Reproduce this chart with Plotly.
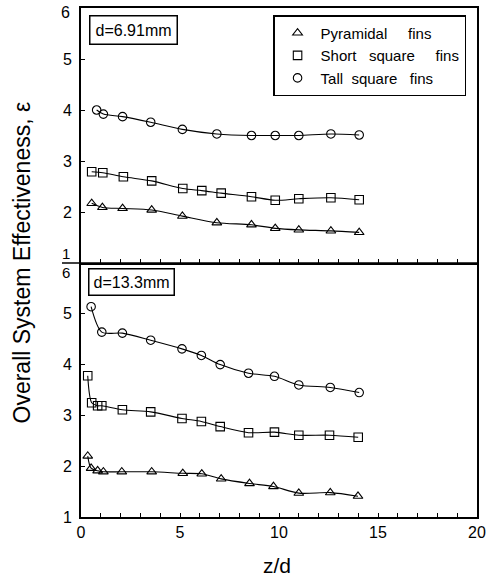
import plotly.graph_objects as go
from plotly.subplots import make_subplots

# ---- data: top panel, d = 6.91 mm ----
zd_top_pyr = [0.54, 1.08, 2.10, 3.57, 5.12, 6.86, 8.61, 9.81, 11.0, 12.62, 14.05]
eps_top_pyr = [2.17, 2.09, 2.07, 2.04, 1.92, 1.79, 1.75, 1.68, 1.65, 1.63, 1.60]
zd_top_short = [0.54, 1.10, 2.14, 3.57, 5.14, 6.10, 7.08, 8.61, 9.81, 11.0, 12.62, 14.05]
eps_top_short = [2.79, 2.77, 2.69, 2.61, 2.46, 2.42, 2.37, 2.30, 2.23, 2.26, 2.28, 2.24]
zd_top_tall = [0.79, 1.13, 2.10, 3.52, 5.12, 6.86, 8.61, 9.81, 11.0, 12.62, 14.05]
eps_top_tall = [4.00, 3.92, 3.87, 3.76, 3.62, 3.53, 3.50, 3.50, 3.50, 3.53, 3.51]

# ---- data: bottom panel, d = 13.3 mm ----
zd_bot_pyr = [0.34, 0.51, 0.84, 1.13, 2.06, 3.57, 5.14, 6.10, 7.08, 8.51, 9.72, 11.0, 12.59, 13.99]
eps_bot_pyr = [2.20, 1.96, 1.91, 1.89, 1.89, 1.89, 1.86, 1.85, 1.75, 1.66, 1.60, 1.47, 1.48, 1.41]
zd_bot_short = [0.34, 0.54, 0.84, 1.05, 2.09, 3.52, 5.10, 6.08, 7.03, 8.46, 9.77, 11.0, 12.55, 14.0]
eps_bot_short = [3.78, 3.25, 3.19, 3.19, 3.11, 3.07, 2.94, 2.88, 2.78, 2.66, 2.67, 2.61, 2.61, 2.57]
zd_bot_tall = [0.51, 1.05, 2.09, 3.52, 5.10, 6.08, 7.03, 8.46, 9.77, 11.0, 12.59, 14.05]
eps_bot_tall = [5.14, 4.64, 4.62, 4.48, 4.31, 4.18, 4.00, 3.83, 3.77, 3.60, 3.55, 3.45]

NB = "\u00a0"
series_names = ["Pyramidal" + NB * 5 + "fins",
                "Short" + NB * 3 + "square" + NB * 5 + "fins",
                "Tall" + NB * 2 + "square" + NB * 3 + "fins"]
symbols = ["triangle-up-open", "square-open", "circle-open"]
panel_labels = ["d=6.91mm", "d=13.3mm"]
x_ticks = [0, 5, 10, 15, 20]
y_ticks = [1, 2, 3, 4, 5, 6]
x_title = "z/d"
y_title = "Overall System Effectiveness, \u03b5"

FONT = "Liberation Sans, Arial, sans-serif"

fig = make_subplots(rows=2, cols=1, shared_xaxes=True, vertical_spacing=0)

top = [(zd_top_pyr, eps_top_pyr), (zd_top_short, eps_top_short), (zd_top_tall, eps_top_tall)]
bot = [(zd_bot_pyr, eps_bot_pyr), (zd_bot_short, eps_bot_short), (zd_bot_tall, eps_bot_tall)]

for row, sets in ((1, top), (2, bot)):
    for i, (xs, ys) in enumerate(sets):
        fig.add_trace(go.Scatter(x=xs, y=ys, mode="lines",
                                 line=dict(color="black", width=1.1, shape="spline", smoothing=0.8),
                                 showlegend=False, hoverinfo="skip"), row=row, col=1)
        fig.add_trace(go.Scatter(x=xs, y=ys, mode="markers", name=series_names[i],
                                 marker=dict(symbol=symbols[i], size=8.5, color="black",
                                             line=dict(color="black", width=1.1)),
                                 showlegend=(row == 1)), row=row, col=1)

split = 0.499
axis_common = dict(showline=True, linecolor="black", linewidth=2,
                   showgrid=False, zeroline=False, ticks="inside", tickcolor="black",
                   tickwidth=1.2, ticklen=4, automargin=False,
                   tickfont=dict(family=FONT, size=16, color="black"))
minor_x = dict(dtick=1, ticks="inside", ticklen=4, tickcolor="black", tickwidth=1.2)

fig.update_layout(
    xaxis=dict(axis_common, mirror=True, range=[0, 20], tickvals=x_ticks,
               showticklabels=False, minor=minor_x),
    xaxis2=dict(axis_common, mirror=False, range=[0, 20], tickvals=x_ticks,
                ticktext=[str(v) for v in x_ticks], minor=minor_x),
    yaxis=dict(axis_common, mirror=True, range=[1, 6], domain=[split, 1],
               tickvals=y_ticks[1:-1], ticktext=[str(v) for v in y_ticks[1:-1]],
               ticklabelstandoff=4),
    yaxis2=dict(axis_common, mirror=True, range=[1, 6], domain=[0, split],
                tickvals=y_ticks[:-1], ticktext=[str(v) for v in y_ticks[:-1]],
                ticklabelstandoff=4),
)

lab_font = dict(family=FONT, size=16, color="black")
annotations = [
    dict(text=panel_labels[0], x=0.1338, y=0.9568, xref="paper", yref="paper", showarrow=False,
         xanchor="center", yanchor="middle", font=lab_font, bordercolor="black",
         borderwidth=1.5, borderpad=5, bgcolor="white"),
    dict(text=panel_labels[1], x=0.1275, y=0.4617, xref="paper", yref="paper", showarrow=False,
         xanchor="center", yanchor="middle", font=lab_font, bordercolor="black",
         borderwidth=1.5, borderpad=4, bgcolor="white"),
    # tick labels that the reference nudges away from panel edges
    dict(text=str(y_ticks[-1]), x=-0.024, y=0.992, xref="paper", yref="paper",
         xanchor="right", yanchor="middle", borderpad=0, showarrow=False, font=lab_font),
    dict(text=str(y_ticks[0]), x=-0.024, y=0.5167, xref="paper", yref="paper",
         xanchor="right", yanchor="middle", borderpad=0, showarrow=False,
         font=dict(family=FONT, size=15, color="black")),
    dict(text=str(y_ticks[-1]), x=-0.024, y=0.4794, xref="paper", yref="paper",
         xanchor="right", yanchor="middle", borderpad=0, showarrow=False,
         font=dict(family=FONT, size=15, color="black")),
    dict(text=x_title, x=0.495, y=-0.096, xref="paper", yref="paper", showarrow=False,
         xanchor="center", yanchor="middle", font=dict(family=FONT, size=21, color="black")),
    dict(text=y_title, x=-0.1515, y=0.5, xref="paper", yref="paper", showarrow=False,
         xanchor="center", yanchor="middle", textangle=-90,
         font=dict(family=FONT, size=23, color="black")),
]

fig.update_layout(
    width=487, height=577,
    margin=dict(l=81, r=10, t=8, b=60, autoexpand=False),
    paper_bgcolor="white", plot_bgcolor="white",
    annotations=annotations,
    shapes=[dict(type="line", xref="paper", yref="paper", x0=-0.048, x1=1, y0=split, y1=split,
                 line=dict(color="black", width=1.5))],
    legend=dict(x=0.485, y=0.986, xanchor="left", yanchor="top", bordercolor="black",
                borderwidth=1.5, bgcolor="white", font=dict(family=FONT, size=15, color="black"),
                itemwidth=36),
    font=dict(family=FONT, color="black"),
)

fig.write_html("out.html")
